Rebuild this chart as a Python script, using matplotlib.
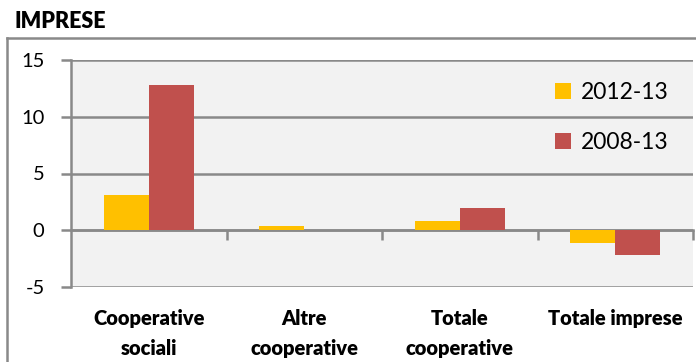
import matplotlib
matplotlib.use('Agg')
import matplotlib.pyplot as plt
from matplotlib.lines import Line2D
import numpy as np

plt.rcParams['font.family'] = ['Lato', 'DejaVu Sans']

categories = ['Cooperative\nsociali', 'Altre\ncooperative', 'Totale\ncooperative', 'Totale imprese']
series_names = ['2012-13', '2008-13']
v_2012_13 = [3.1, 0.4, 0.8, -1.1]
v_2008_13 = [12.8, 0.0, 2.0, -2.2]
yticks = [-5, 0, 5, 10, 15]

GRAY = '#898989'
fig = plt.figure(figsize=(6.96, 3.62), dpi=100)
ax = fig.add_axes([71/696, 1-287/362, 622/696, 227/362])
ax.set_facecolor('#f2f2f2')

x = np.arange(len(categories))
w = 0.29
ax.bar(x - w/2, v_2012_13, w, color='#FFC000', label=series_names[0], zorder=3)
ax.bar(x + w/2, v_2008_13, w, color='#C0504D', label=series_names[1], zorder=3)

ax.set_xlim(-0.5, len(categories) - 0.5)
ax.set_ylim(-5, 15)
ax.set_yticks(yticks)
ax.set_yticklabels([str(t) for t in yticks], fontsize=14.5)
ax.yaxis.grid(True, color=GRAY, lw=1.8, zorder=1)
ax.set_axisbelow(True)
ax.tick_params(axis='y', length=7, width=1.8, color=GRAY, pad=12)

for s in ['top', 'right']:
    ax.spines[s].set_visible(False)
ax.spines['left'].set_color(GRAY)
ax.spines['left'].set_linewidth(1.8)
ax.spines['bottom'].set_position(('data', 0))
ax.spines['bottom'].set_color(GRAY)
ax.spines['bottom'].set_linewidth(1.8)
ax.set_xticks(x[1:] - 0.5)
ax.set_xticks([len(categories) - 0.5], minor=True)
ax.tick_params(axis='x', which='both', length=7, width=1.8, color=GRAY, labelbottom=False)

sec = ax.secondary_xaxis(0)
sec.set_xticks(x)
sec.set_xticklabels(categories, fontsize=14.5, fontweight='heavy', linespacing=1.65)
sec.tick_params(length=0, pad=16)
sec.spines['bottom'].set_visible(False)

leg = ax.legend(loc='upper left', bbox_to_anchor=(0.778, 0.905), frameon=False,
                fontsize=16.5, handlelength=0.7, handleheight=0.7, handletextpad=0.45,
                labelspacing=1.3, borderpad=0, borderaxespad=0)

fig.text(14/696, 1-22/362, 'IMPRESE', fontsize=15.5, fontweight='heavy', va='center', ha='left')
fig.add_artist(Line2D([7/696, 1], [1-38/362, 1-38/362], color=GRAY, lw=1.8, transform=fig.transFigure))
fig.add_artist(Line2D([7/696, 7/696], [0, 1-38/362], color=GRAY, lw=1.8, transform=fig.transFigure))

fig.savefig('out.png', dpi=100)
